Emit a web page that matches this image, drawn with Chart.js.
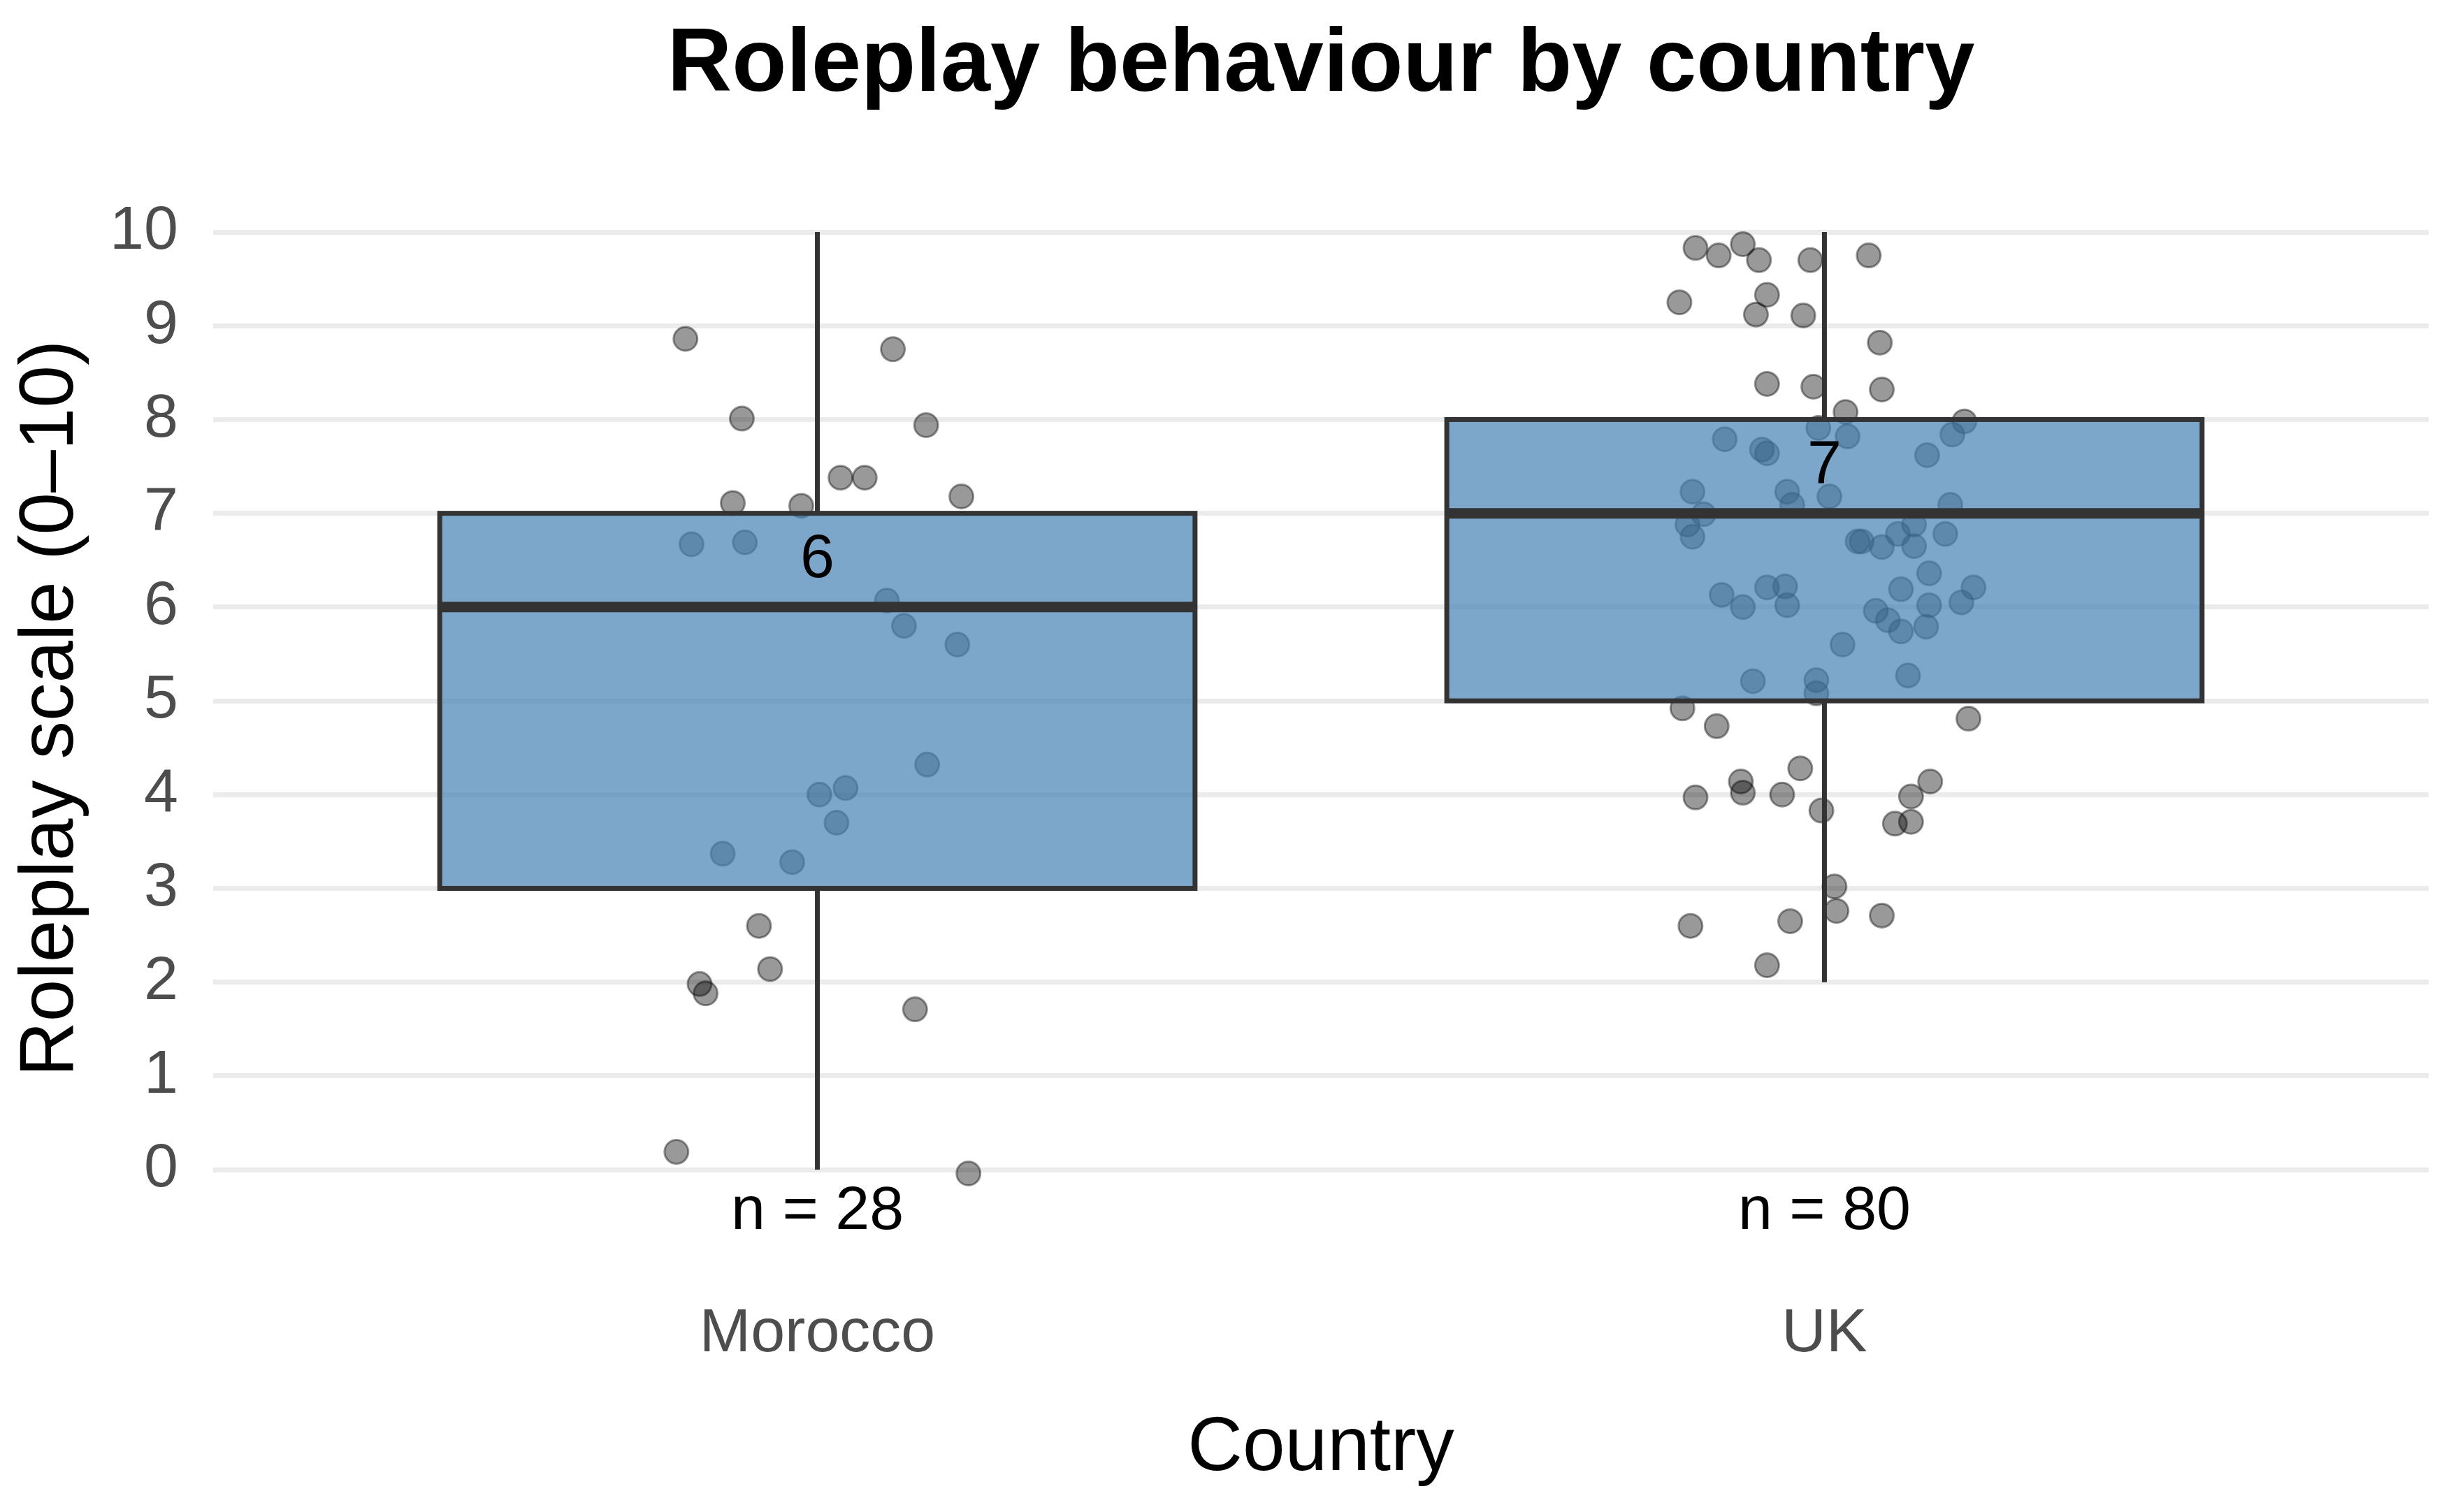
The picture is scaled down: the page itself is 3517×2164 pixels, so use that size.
<!DOCTYPE html>
<html>
<head>
<meta charset="utf-8">
<script src="https://cdn.jsdelivr.net/npm/chart.js@4.4.1/dist/chart.umd.min.js"></script>
<style>
  html, body { margin: 0; padding: 0; background: #ffffff; }
</style>
</head>
<body>
<canvas id="roleplayChart" width="3517" height="2164"></canvas>
<script>
// ---- data ----
const countries = ['Morocco', 'UK'];
const nCounts = [28, 80];
const whiskerLow = [0, 2];
const boxQ1 = [3, 5];
const boxMedian = [6, 7];
const boxQ3 = [7, 8];
const whiskerHigh = [10, 10];
const yTickValues = [0, 1, 2, 3, 4, 5, 6, 7, 8, 9, 10];

// jittered observations (x = group position + jitter)
const moroccoX = [0.869, 1.075, 0.925, 1.108, 1.023, 1.047, 0.916, 0.984, 1.143, 0.875,
                  0.928, 1.069, 1.086, 1.139, 1.109, 1.028, 1.002, 1.019, 0.906, 0.975,
                  0.942, 0.953, 0.883, 0.889, 1.097, 0.860, 1.150];
const moroccoY = [8.86, 8.75, 8.01, 7.94, 7.38, 7.38, 7.11, 7.08, 7.18, 6.67,
                  6.69, 6.07, 5.80, 5.60, 4.32, 4.07, 4.00, 3.70, 3.37, 3.28,
                  2.60, 2.14, 1.98, 1.88, 1.71, 0.19, -0.04];

const ukX = [1.872, 1.895, 1.919, 1.935, 1.986, 2.044, 1.856, 1.943, 1.932, 1.979,
             2.055, 1.943, 1.989, 2.057, 2.021, 1.994, 2.139, 2.127, 1.901, 1.938,
             1.943, 2.023, 2.102, 1.869, 1.963, 2.005, 1.968, 2.125, 1.880, 1.864,
             1.869, 2.033, 2.037, 2.057, 2.073, 2.089, 2.089, 2.120, 2.104, 2.076,
             2.148, 2.136, 2.104, 2.051, 2.063, 2.076, 2.101, 1.898, 1.919, 1.943,
             1.961, 1.963, 2.018, 2.083, 1.929, 1.992, 1.992, 1.859, 1.893, 2.143,
             1.976, 1.917, 1.919, 1.872, 1.958, 1.997, 2.105, 2.086, 2.070, 2.086,
             2.010, 2.012, 2.057, 1.867, 1.966, 1.943];
const ukY = [9.83, 9.75, 9.87, 9.70, 9.70, 9.75, 9.25, 9.33, 9.12, 9.11,
             8.82, 8.38, 8.35, 8.32, 8.08, 7.91, 7.98, 7.84, 7.79, 7.68,
             7.64, 7.82, 7.62, 7.23, 7.23, 7.18, 7.09, 7.09, 6.99, 6.88,
             6.75, 6.70, 6.70, 6.64, 6.78, 6.88, 6.65, 6.78, 6.36, 6.19,
             6.21, 6.05, 6.02, 5.96, 5.86, 5.74, 5.79, 6.13, 6.00, 6.21,
             6.22, 6.02, 5.60, 5.27, 5.21, 5.22, 5.08, 4.92, 4.73, 4.81,
             4.28, 4.14, 4.02, 3.97, 4.00, 3.83, 4.14, 3.98, 3.69, 3.71,
             3.02, 2.76, 2.71, 2.60, 2.65, 2.18];

// ---- styling ----
const FONT = '"Liberation Sans", Arial, sans-serif';
const BOX_HALF = 0.375;
const LINE_COL = '#333333';
const pointStyle = {
    pointRadius: 17,
    pointBorderWidth: 3,
    pointBackgroundColor: 'rgba(0,0,0,0.4)',
    pointBorderColor: 'rgba(0,0,0,0.4)',
    showLine: false,
    clip: false
};

function toPoints(xs, ys){
    return xs.map(function(x, i){ return {x: x, y: ys[i]}; });
}

// boxes, whiskers, median and text labels drawn over the jittered points
const boxPlugin = {
    id: 'boxPlot',
    afterDatasetsDraw: function(chart){
        const ctx = chart.ctx;
        const xs = chart.scales.x;
        const ys = chart.scales.y;
        ctx.save();
        countries.forEach(function(name, i){
            const pos = i + 1;
            const cx = xs.getPixelForValue(pos);
            const left = xs.getPixelForValue(pos - BOX_HALF);
            const right = xs.getPixelForValue(pos + BOX_HALF);
            const top = ys.getPixelForValue(boxQ3[i]);
            const bot = ys.getPixelForValue(boxQ1[i]);

            // whiskers
            ctx.strokeStyle = LINE_COL;
            ctx.lineWidth = 7;
            ctx.lineCap = 'butt';
            ctx.beginPath();
            ctx.moveTo(cx, ys.getPixelForValue(whiskerHigh[i]));
            ctx.lineTo(cx, top);
            ctx.moveTo(cx, bot);
            ctx.lineTo(cx, ys.getPixelForValue(whiskerLow[i]));
            ctx.stroke();

            // box
            ctx.fillStyle = 'rgba(70,130,180,0.7)';
            ctx.fillRect(left, top, right - left, bot - top);
            ctx.lineWidth = 7;
            ctx.strokeRect(left, top, right - left, bot - top);

            // median
            const my = ys.getPixelForValue(boxMedian[i]);
            ctx.lineWidth = 15;
            ctx.beginPath();
            ctx.moveTo(left, my);
            ctx.lineTo(right, my);
            ctx.stroke();

            // median value + n labels
            ctx.fillStyle = '#000000';
            ctx.font = '88px ' + FONT;
            ctx.textAlign = 'center';
            ctx.textBaseline = 'middle';
            ctx.fillText(String(boxMedian[i]), cx, ys.getPixelForValue(boxMedian[i] + 0.5));
            ctx.fillText('n = ' + nCounts[i], cx, ys.getPixelForValue(-0.45));
        });
        ctx.restore();
    }
};

const ctx = document.getElementById('roleplayChart');
const roleplayChart = new Chart(ctx, {
    type: 'scatter',
    data: {
        datasets: [
            { label: countries[0], data: toPoints(moroccoX, moroccoY), ...pointStyle },
            { label: countries[1], data: toPoints(ukX, ukY), ...pointStyle }
        ]
    },
    plugins: [boxPlugin],
    options: {
        responsive: false,
        animation: false,
        events: [],
        layout: {
            padding: { left: 0, right: 42, top: 0, bottom: 0 }
        },
        plugins: {
            legend: { display: false },
            tooltip: { enabled: false },
            title: {
                display: true,
                fullSize: false,
                text: 'Roleplay behaviour by country',
                color: '#000000',
                font: { family: FONT, size: 128, weight: 'bold', lineHeight: 1.2 },
                padding: { top: 18, bottom: 92 }
            }
        },
        scales: {
            x: {
                type: 'linear',
                min: 0.4,
                max: 2.6,
                grid: { display: false },
                border: { display: false },
                afterBuildTicks: function(axis){
                    axis.ticks = countries.map(function(c, i){ return {value: i + 1}; });
                },
                afterFit: function(axis){ axis.height = 400; },
                ticks: {
                    padding: 85,
                    color: '#4D4D4D',
                    font: { family: FONT, size: 88, lineHeight: 1.2 },
                    callback: function(value){ return countries[value - 1]; }
                },
                title: {
                    display: true,
                    text: 'Country',
                    color: '#000000',
                    font: { family: FONT, size: 109, lineHeight: 1.2 },
                    padding: { top: 0, bottom: 25 }
                }
            },
            y: {
                min: -0.67,
                max: 10.51,
                grid: { color: '#EBEBEB', lineWidth: 7, drawTicks: false },
                border: { display: false },
                afterBuildTicks: function(axis){
                    axis.ticks = yTickValues.map(function(v){ return {value: v}; });
                },
                afterFit: function(axis){ axis.width = 305; },
                ticks: {
                    padding: 50,
                    color: '#4D4D4D',
                    font: { family: FONT, size: 88, lineHeight: 1.2 }
                },
                title: {
                    display: true,
                    text: 'Roleplay scale (0–10)',
                    color: '#000000',
                    font: { family: FONT, size: 109, lineHeight: 1.2 },
                    padding: { top: 9, bottom: 0 }
                }
            }
        }
    }
});
</script>
</body>
</html>
